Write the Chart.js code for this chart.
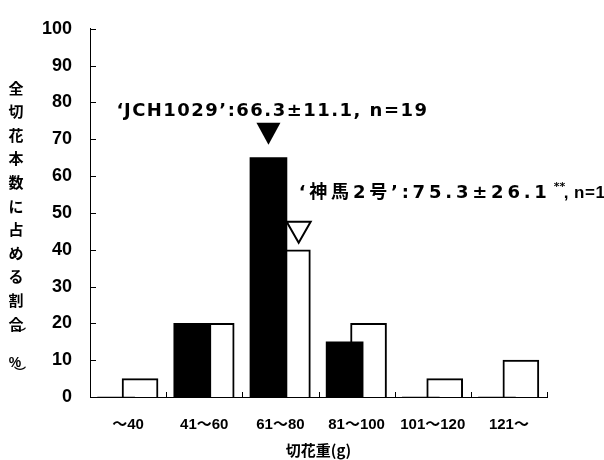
<!DOCTYPE html>
<html>
<head>
<meta charset="utf-8">
<script src="https://cdn.jsdelivr.net/npm/chart.js@4"></script>
<style>
	html, body { margin: 0; padding: 0; background: #fff; }
	#wrap { width: 604px; height: 460px; }
</style>
</head>
<body>
<div id="wrap"><canvas id="grafico" width="604" height="460"></canvas></div>
<script>
// categorias de peso de flor cortada
var categorias = ['～40', '41～60', '61～80', '81～100', '101～120', '121～'];
var jch1029 = [0, 20, 65, 15, 0, 0];
var jinba2 = [5, 20, 40, 20, 5, 10];
var yTicks = [0, 10, 20, 30, 40, 50, 60, 70, 80, 90, 100];
var tituloY = ['全', '切', '花', '本', '数', 'に', '占', 'め', 'る', '割', '合'];
var tituloX = '切花重(g)';
var etiqueta1 = '‘JCH1029’:66.3±11.1, n=19';
var etiqueta2 = '‘神馬2号’:75.3±26.1';
var etiqueta2sup = '**';
var etiqueta2fin = ', n=19';
var indiceMedia = 2;

var desplaz = 0.157;
var fuente = '"Liberation Sans", "Noto Sans CJK JP", sans-serif';
var fuenteEtiq = '"DejaVu Sans", "Noto Sans CJK JP", sans-serif';

var datosNegro = [];
var datosBlanco = [];
for (var i in categorias) {
	datosNegro.push({x: Number(i) - desplaz, y: jch1029[i]});
	datosBlanco.push({x: Number(i) + desplaz, y: jinba2[i]});
}

function textoAncho(ctx, txt, ancho) {
	ctx.letterSpacing = '0px';
	var w = ctx.measureText(txt).width;
	var n = Array.from(txt).length;
	ctx.letterSpacing = ((ancho - w) / n) + 'px';
}

var anotaciones = {
	id: 'anotaciones',
	afterDraw: function(chart) {
		var ctx = chart.ctx;
		var area = chart.chartArea;
		var sx = chart.scales.x;
		var sy = chart.scales.y;
		ctx.save();
		ctx.strokeStyle = '#000';
		ctx.lineWidth = 1;
		// marcas hacia adentro
		for (var t in yTicks) {
			var py = Math.round(sy.getPixelForValue(yTicks[t])) + 0.5;
			ctx.beginPath();
			ctx.moveTo(area.left, py);
			ctx.lineTo(area.left + 6, py);
			ctx.stroke();
		}
		for (var k = 1; k <= categorias.length; k++) {
			var px = Math.round(sx.getPixelForValue(k - 0.5)) + 0.5;
			ctx.beginPath();
			ctx.moveTo(px, area.bottom);
			ctx.lineTo(px, area.bottom - 5);
			ctx.stroke();
		}

		// triangulos
		var negro = chart.getDatasetMeta(0).data[indiceMedia];
		var blanco = chart.getDatasetMeta(1).data[indiceMedia];
		var cx1 = negro.x;
		var b1 = negro.y - 13;
		ctx.fillStyle = '#000';
		ctx.beginPath();
		ctx.moveTo(cx1 - 12, b1 - 22);
		ctx.lineTo(cx1 + 12, b1 - 22);
		ctx.lineTo(cx1, b1);
		ctx.closePath();
		ctx.fill();

		var cx2 = (negro.x + negro.width / 2 + blanco.x + blanco.width / 2) / 2;
		var b2 = blanco.y - 7;
		ctx.lineWidth = 2;
		ctx.fillStyle = '#fff';
		ctx.beginPath();
		ctx.moveTo(cx2 - 12, b2 - 21);
		ctx.lineTo(cx2 + 12, b2 - 21);
		ctx.lineTo(cx2, b2);
		ctx.closePath();
		ctx.fill();
		ctx.stroke();

		// textos
		ctx.fillStyle = '#000';
		ctx.textBaseline = 'alphabetic';
		ctx.font = '700 18px ' + fuenteEtiq;
		ctx.textAlign = 'left';
		textoAncho(ctx, etiqueta1, 312);
		ctx.fillText(etiqueta1, cx1 - 152, b1 - 29);

		var x2 = cx2;
		var y2 = b2 - 21 - 24;
		textoAncho(ctx, etiqueta2, 252);
		ctx.fillText(etiqueta2, x2, y2);
		ctx.letterSpacing = '0px';
		ctx.font = '700 11px ' + fuenteEtiq;
		ctx.fillText(etiqueta2sup, x2 + 255, y2 - 8);
		ctx.font = '700 17px ' + fuente;
		ctx.letterSpacing = '0.5px';
		ctx.fillText(etiqueta2fin, x2 + 265, y2);
		ctx.letterSpacing = '0px';

		// titulo vertical del eje y
		ctx.textAlign = 'center';
		ctx.textBaseline = 'middle';
		ctx.font = '700 15px "Noto Sans CJK JP", sans-serif';
		var y0 = area.top + 59;
		var paso = 23.6;
		for (var c in tituloY) {
			ctx.fillText(tituloY[c], 16, y0 + c * paso);
		}
		var yp = y0 + 10 * paso;
		ctx.font = '700 12px "Noto Sans CJK JP", sans-serif';
		ctx.fillText('︶', 20, yp + 10);
		ctx.font = '700 14px ' + fuente;
		ctx.fillText('%', 15, yp + 39);
		ctx.font = '700 12px "Noto Sans CJK JP", sans-serif';
		ctx.fillText('︶', 20, yp + 49);
		ctx.restore();
	}
};

var ctx = document.getElementById('grafico');

var grafico = new Chart(ctx, {
	type: 'bar',
	data: {
		datasets: [
			{
				label: 'JCH1029',
				data: datosNegro,
				backgroundColor: '#000',
				borderWidth: 0,
				barThickness: 37,
				grouped: false
			},
			{
				label: '神馬2号',
				data: datosBlanco,
				backgroundColor: '#fff',
				borderColor: '#000',
				borderWidth: 2,
				barThickness: 36,
				grouped: false
			}
		]
	},
	options: {
		responsive: false,
		animation: false,
		events: [],
		layout: { padding: { top: 16, right: 57, bottom: 0, left: 0 } },
		plugins: {
			legend: { display: false },
			tooltip: { enabled: false }
		},
		scales: {
			x: {
				type: 'linear',
				min: -0.5,
				max: 5.5,
				offset: false,
				afterBuildTicks: function(scale) {
					scale.ticks = categorias.map(function(c, i) { return {value: i}; });
				},
				afterFit: function(scale) { scale.height = 63; },
				grid: { display: false, drawTicks: false },
				border: { display: true, color: '#000', width: 1 },
				ticks: {
					color: '#000',
					padding: 19,
					autoSkip: false,
					maxRotation: 0,
					font: { family: fuente, size: 15, weight: '700' },
					callback: function(v) { return categorias[v]; }
				},
				title: {
					display: true,
					text: tituloX,
					color: '#000',
					padding: { top: 0, bottom: 1 },
					font: { family: '"Noto Sans CJK JP", sans-serif', size: 15, weight: '700' }
				}
			},
			y: {
				min: 0,
				max: 100,
				afterBuildTicks: function(scale) {
					scale.ticks = yTicks.map(function(v) { return {value: v}; });
				},
				afterFit: function(scale) { scale.width = 90; },
				grid: { display: false, drawTicks: false },
				border: { display: true, color: '#000', width: 1 },
				ticks: {
					color: '#000',
					padding: 18,
					font: { family: fuente, size: 18, weight: '700' }
				}
			}
		}
	},
	plugins: [anotaciones]
});
</script>
</body>
</html>
